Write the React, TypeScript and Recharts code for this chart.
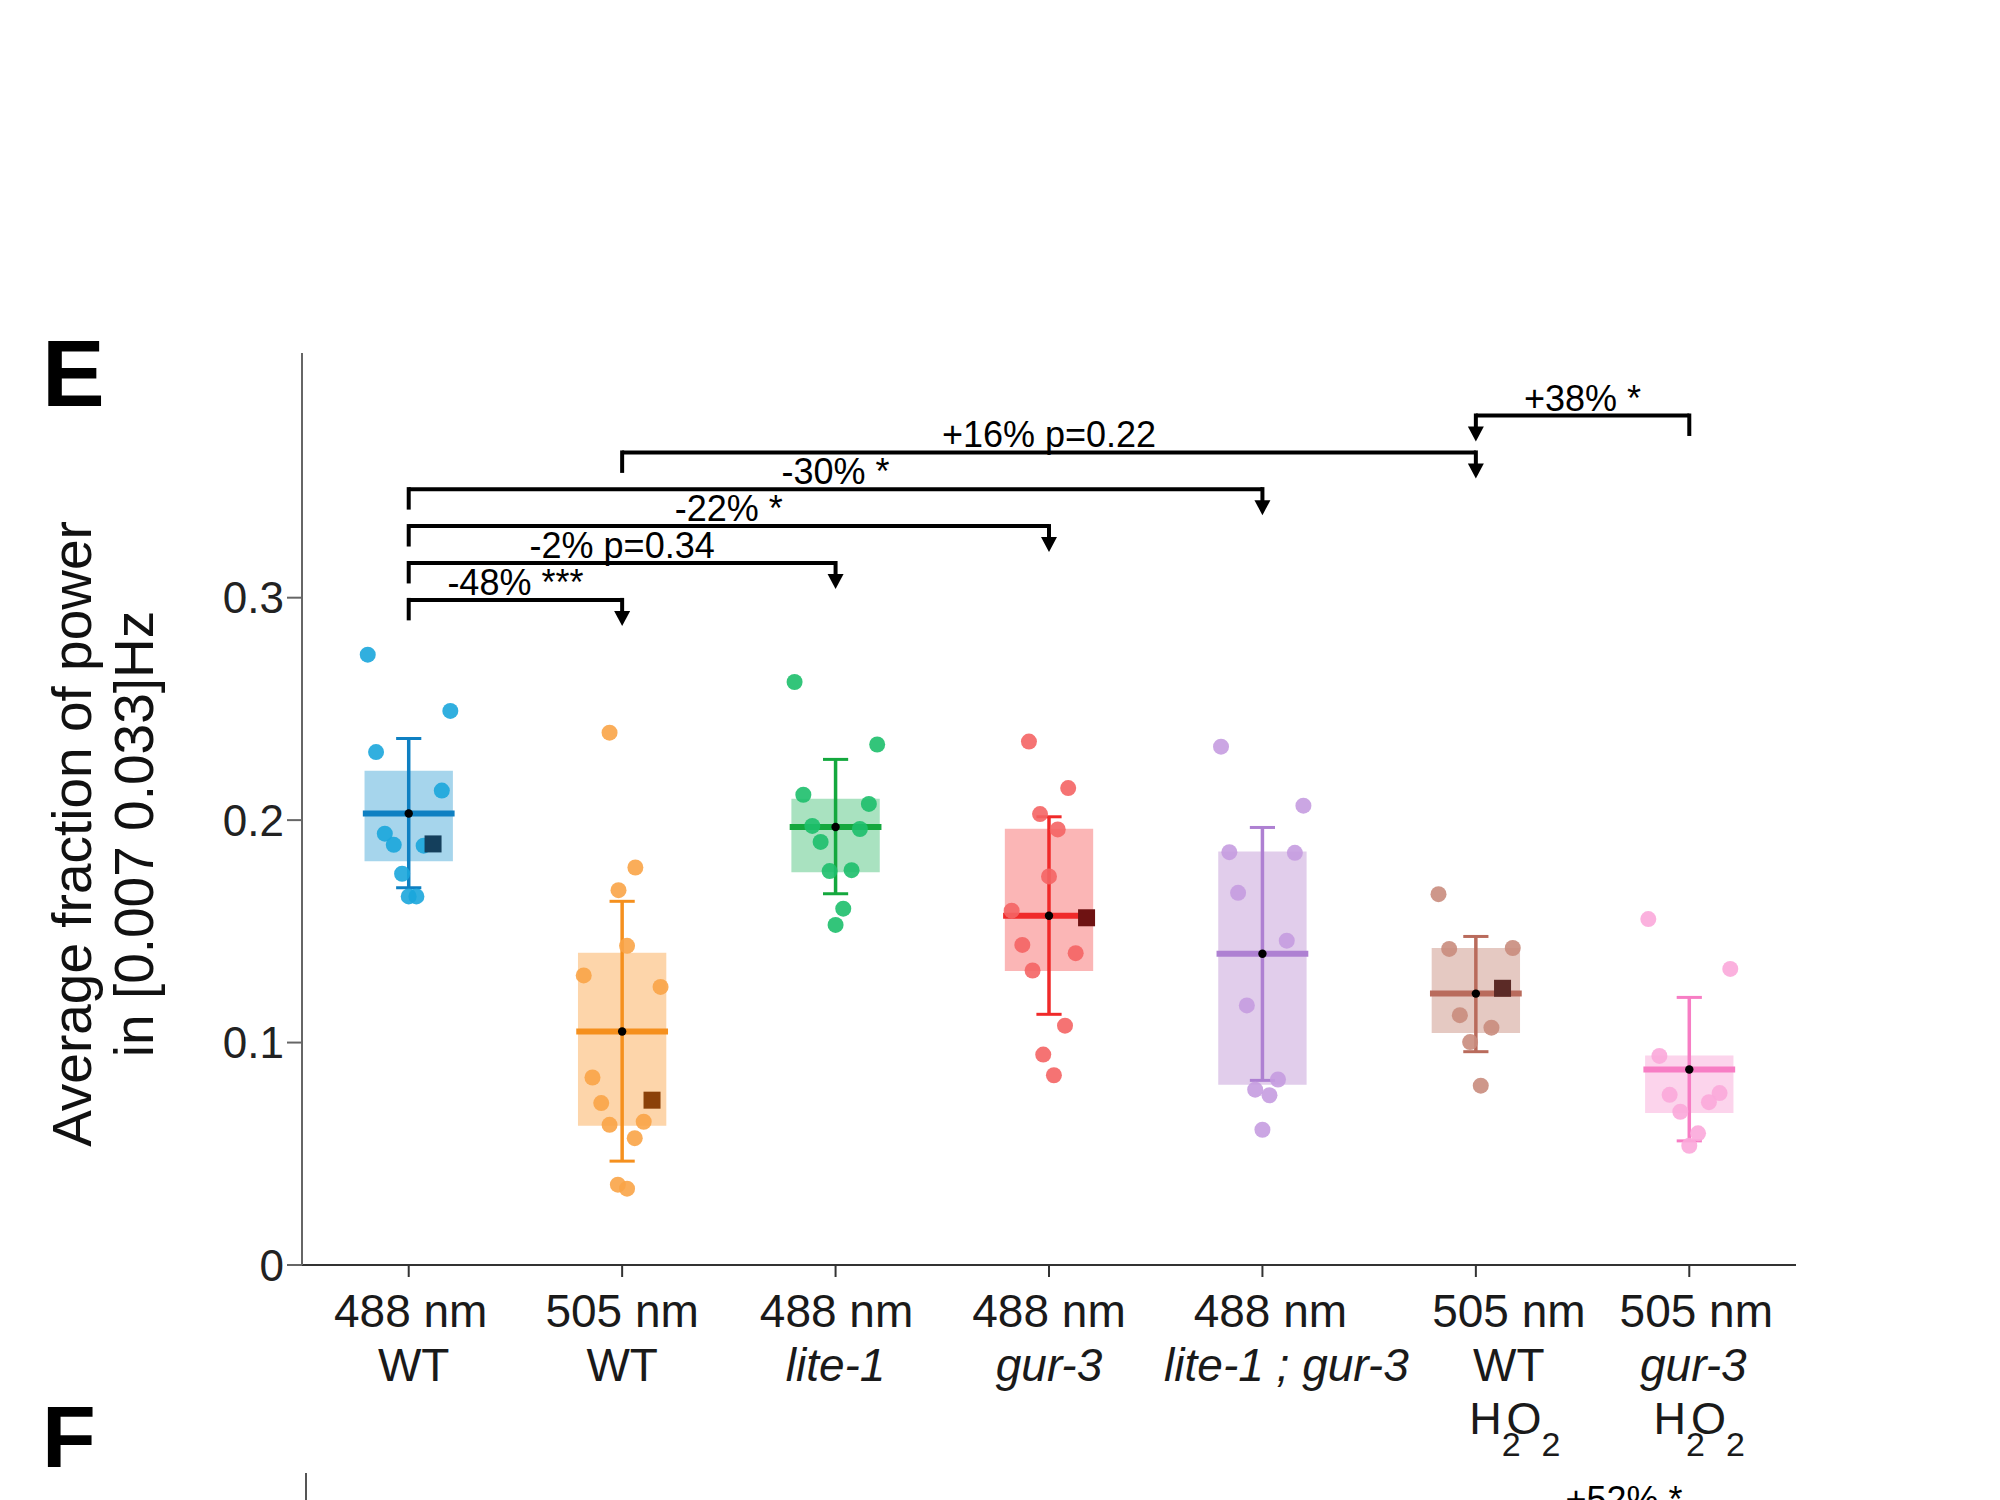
import React from 'react';
import { ScatterChart, Scatter, XAxis, YAxis, ReferenceArea, ReferenceLine, ReferenceDot } from 'recharts';

// category labels
const catWave = ['488 nm', '505 nm', '488 nm', '488 nm', '488 nm', '505 nm', '505 nm'];
const catStrain = ['WT', 'WT', 'lite-1', 'gur-3', 'lite-1 ; gur-3', 'WT', 'gur-3'];
const catItalic = [false, false, true, true, true, false, true];
const catH2O2 = [false, false, false, false, false, true, true];

// summary stats per group
const boxLow = [0.1815, 0.0626, 0.1766, 0.1322, 0.081, 0.1043, 0.0683];
const boxHigh = [0.2222, 0.1404, 0.2096, 0.1961, 0.1859, 0.1425, 0.0942];
const means = [0.203, 0.105, 0.1969, 0.157, 0.1399, 0.122, 0.0879];
const errLow = [0.1696, 0.0467, 0.1669, 0.1127, 0.083, 0.0959, 0.0558];
const errHigh = [0.2367, 0.1635, 0.2273, 0.2015, 0.1967, 0.1477, 0.1203];

// individual animals (value + horizontal jitter within the category)
const wt488Y = [0.2744, 0.2491, 0.2306, 0.2133, 0.1939, 0.1889, 0.1885, 0.1759, 0.1657, 0.1657];
const wt488Jit = [-0.192, 0.195, -0.153, 0.155, -0.112, -0.07, 0.07, -0.031, 0.0, 0.036];
const wt505Y = [0.2393, 0.1787, 0.1685, 0.1435, 0.1302, 0.125, 0.0843, 0.0728, 0.063, 0.0644, 0.057, 0.0361, 0.0343];
const wt505Jit = [-0.059, 0.062, -0.017, 0.023, -0.18, 0.18, -0.139, -0.098, -0.059, 0.101, 0.059, -0.02, 0.023];
const lite1Y = [0.2621, 0.234, 0.2114, 0.2073, 0.1974, 0.196, 0.1902, 0.1771, 0.1775, 0.1602, 0.1529];
const lite1Jit = [-0.192, 0.195, -0.151, 0.156, -0.109, 0.114, -0.07, -0.028, 0.075, 0.036, 0.0];
const gur3Y = [0.2353, 0.2144, 0.2027, 0.1958, 0.1747, 0.1593, 0.1439, 0.1402, 0.1324, 0.1076, 0.0946, 0.0853];
const gur3Jit = [-0.094, 0.09, -0.042, 0.041, 0.0, -0.175, -0.125, 0.125, -0.077, 0.075, -0.027, 0.023];
const liteGurY = [0.233, 0.2065, 0.1856, 0.1853, 0.1673, 0.1458, 0.1167, 0.0834, 0.0788, 0.0763, 0.0608];
const liteGurJit = [-0.194, 0.192, -0.155, 0.152, -0.114, 0.114, -0.073, 0.073, -0.034, 0.033, 0.0];
const wtH2O2Y = [0.1667, 0.1421, 0.1425, 0.1123, 0.1067, 0.1002, 0.0806];
const wtH2O2Jit = [-0.175, -0.125, 0.173, -0.075, 0.073, -0.027, 0.023];
const gurH2O2Y = [0.1555, 0.1331, 0.094, 0.0765, 0.0773, 0.0732, 0.0689, 0.0592, 0.0536];
const gurH2O2Jit = [-0.192, 0.192, -0.14, -0.092, 0.142, 0.092, -0.042, 0.041, 0.0];

// dark squares (reference animal)
const squareY = [0.1893, 0.0741, null, 0.1561, null, 0.1244, null];
const squareJit = [0.114, 0.14, 0, 0.176, 0, 0.125, 0];

// comparisons
const compFrom = [1, 1, 1, 1, 2, 6];
const compTo = [2, 3, 4, 5, 6, 7];
const compArrow = [2, 3, 4, 5, 6, 6];
const compLevel = [0.299, 0.3156, 0.3322, 0.3488, 0.3653, 0.3819];
const compText = ['-48% ***', '-2% p=0.34', '-22% *', '-30% *', '+16% p=0.22', '+38% *'];

const yTicks = [0, 0.1, 0.2, 0.3];

// styles
const dotColors = ['#1ba6dc', '#f9a447', '#1dbf6b', '#f46464', '#c59ce0', '#c98c7d', '#fba8da'];
const boxColors = ['#a6d5ec', '#fdd5aa', '#a9e2c0', '#fbb6b6', '#e1cdeb', '#e5c9c2', '#fcd4ec'];
const lineColors = ['#0f80c2', '#f5901e', '#14a83e', '#f02a2a', '#ae80d2', '#b96b5c', '#f77dc4'];
const squareColors = ['#143f5c', '#8b4109', '#000', '#6e1212', '#000', '#5b2a26', '#000'];
const waveShift = [2, 0, 1, 0, 8, 33, 7];
const strainShift = [5, 0, 0, 0, 24, 33, 4];

const groupY = [wt488Y, wt505Y, lite1Y, gur3Y, liteGurY, wtH2O2Y, gurH2O2Y];
const groupJit = [wt488Jit, wt505Jit, lite1Jit, gur3Jit, liteGurJit, wtH2O2Jit, gurH2O2Jit];

const BOX_HALF = 0.207;
const MEAN_HALF = 0.215;
const CAP_HALF = 0.059;
const LEG = 0.0092;
const TIP = 0.0117;

const FONT = '"Liberation Sans", Arial, Helvetica, sans-serif';

function CategoryTick(props: any) {
  const { x, y, payload } = props;
  const i = Math.round(payload.value) - 1;
  if (i < 0 || i > 6) return null;
  return (
    <g fill="#1a1a1a" fontFamily={FONT}>
      <text x={x + waveShift[i]} y={y + 48} textAnchor="middle" fontSize={46}>{catWave[i]}</text>
      <text x={x + strainShift[i]} y={y + 102} textAnchor="middle" fontSize={46} fontStyle={catItalic[i] ? 'italic' : 'normal'}>
        {catStrain[i]}
      </text>
      {catH2O2[i] && (
        <text x={x + strainShift[i] + 6} y={y + 155} textAnchor="middle" fontSize={45}>
          H<tspan dy={22} fontSize={34}>2</tspan>
          <tspan dy={-22} dx={-14}>O</tspan>
          <tspan dy={22} fontSize={34}>2</tspan>
        </text>
      )}
    </g>
  );
}

function renderYLabel(props: any) {
  const vb = props.viewBox || {};
  const cy = vb.y + vb.height / 2 + 25;
  const x1 = vb.x - 61;
  const x2 = vb.x + 1;
  return (
    <g fill="#111" fontFamily={FONT} fontSize={55}>
      <text transform={`translate(${x1},${cy}) rotate(-90)`} textAnchor="middle">Average fraction of power</text>
      <text transform={`translate(${x2},${cy}) rotate(-90)`} textAnchor="middle">in [0.007 0.033]Hz</text>
    </g>
  );
}

const Arrowhead = (p: any) => (
  <polygon points={`${p.cx - 8},${p.cy - 15} ${p.cx + 8},${p.cy - 15} ${p.cx},${p.cy}`} fill="#000" />
);

export default function App() {
  const meanData = means.map((m, i) => ({ x: i + 1, y: m }));
  const squareData = squareY
    .map((v, i) => (v == null ? null : { x: i + 1 + squareJit[i], y: v, g: i }))
    .filter(Boolean) as { x: number; y: number; g: number }[];

  return (
    <div style={{ position: 'absolute', left: 0, top: 0, width: 2000, height: 1500, overflow: 'hidden', background: '#fff', fontFamily: FONT }}>
      <ScatterChart width={2000} height={1500} margin={{ top: 353, right: 204, bottom: 35, left: 152 }}>
        <XAxis
          type="number"
          dataKey="x"
          domain={[0.5, 7.5]}
          ticks={[1, 2, 3, 4, 5, 6, 7]}
          interval={0}
          height={200}
          tick={<CategoryTick />}
          tickSize={12}
          axisLine={{ stroke: '#333', strokeWidth: 2 }}
          tickLine={{ stroke: '#333', strokeWidth: 2 }}
          allowDataOverflow
        />
        <YAxis
          type="number"
          dataKey="y"
          domain={[0, 0.41]}
          ticks={yTicks}
          tickFormatter={(v: number) => (v === 0 ? '0' : String(v))}
          width={150}
          tickSize={15}
          tickMargin={3}
          tick={{ fontSize: 44, fill: '#222', fontFamily: FONT }}
          axisLine={{ stroke: '#666', strokeWidth: 2 }}
          tickLine={{ stroke: '#666', strokeWidth: 2 }}
          label={renderYLabel}
          allowDataOverflow
        />

        {boxLow.map((lo, i) => (
          <ReferenceArea
            key={`box${i}`}
            x1={i + 1 - BOX_HALF}
            x2={i + 1 + BOX_HALF}
            y1={lo}
            y2={boxHigh[i]}
            fill={boxColors[i]}
            fillOpacity={1}
            stroke="none"
            ifOverflow="visible"
          />
        ))}

        {groupY.map((ys, g) => (
          <Scatter
            key={`pts${g}`}
            data={ys.map((y, k) => ({ x: g + 1 + groupJit[g][k], y }))}
            isAnimationActive={false}
            shape={(p: any) => <circle cx={p.cx} cy={p.cy} r={8} fill={dotColors[g]} fillOpacity={0.9} />}
          />
        ))}

        {means.map((m, i) => (
          <ReferenceLine key={`eb${i}`} segment={[{ x: i + 1, y: errLow[i] }, { x: i + 1, y: errHigh[i] }]} stroke={lineColors[i]} strokeWidth={3.5} ifOverflow="visible" />
        ))}
        {means.map((m, i) => (
          <ReferenceLine key={`capH${i}`} segment={[{ x: i + 1 - CAP_HALF, y: errHigh[i] }, { x: i + 1 + CAP_HALF, y: errHigh[i] }]} stroke={lineColors[i]} strokeWidth={3} ifOverflow="visible" />
        ))}
        {means.map((m, i) => (
          <ReferenceLine key={`capL${i}`} segment={[{ x: i + 1 - CAP_HALF, y: errLow[i] }, { x: i + 1 + CAP_HALF, y: errLow[i] }]} stroke={lineColors[i]} strokeWidth={3} ifOverflow="visible" />
        ))}
        {means.map((m, i) => (
          <ReferenceLine key={`mean${i}`} segment={[{ x: i + 1 - MEAN_HALF, y: m }, { x: i + 1 + MEAN_HALF, y: m }]} stroke={lineColors[i]} strokeWidth={6} ifOverflow="visible" />
        ))}

        <Scatter
          data={squareData}
          isAnimationActive={false}
          shape={(p: any) => <rect x={p.cx - 8.5} y={p.cy - 8.5} width={17} height={17} fill={squareColors[p.payload.g]} />}
        />
        <Scatter
          data={meanData}
          isAnimationActive={false}
          shape={(p: any) => <circle cx={p.cx} cy={p.cy} r={4.2} fill="#000" />}
        />

        {compText.map((t, k) => (
          <ReferenceLine
            key={`br${k}`}
            segment={[{ x: compFrom[k], y: compLevel[k] }, { x: compTo[k], y: compLevel[k] }]}
            stroke="#000"
            strokeWidth={4}
            ifOverflow="visible"
            label={{ value: t, position: 'top', offset: 5, fontSize: 36, fill: '#000', fontFamily: FONT }}
          />
        ))}
        {compText.map((t, k) => {
          const other = compArrow[k] === compTo[k] ? compFrom[k] : compTo[k];
          return (
            <ReferenceLine
              key={`leg${k}`}
              segment={[{ x: other, y: compLevel[k] + 0.0009 }, { x: other, y: compLevel[k] - LEG }]}
              stroke="#000"
              strokeWidth={4}
              ifOverflow="visible"
            />
          );
        })}
        {compText.map((t, k) => (
          <ReferenceLine
            key={`stem${k}`}
            segment={[{ x: compArrow[k], y: compLevel[k] + 0.0009 }, { x: compArrow[k], y: compLevel[k] - TIP + 0.004 }]}
            stroke="#000"
            strokeWidth={4}
            ifOverflow="visible"
          />
        ))}
        {compText.map((t, k) => (
          <ReferenceDot key={`arr${k}`} x={compArrow[k]} y={compLevel[k] - TIP} r={1} shape={Arrowhead} ifOverflow="visible" />
        ))}
      </ScatterChart>

      <svg width={2000} height={1500} style={{ position: 'absolute', left: 0, top: 0, pointerEvents: 'none' }}>
        <text x={42} y={406} fontSize={94} fontWeight={900} fill="#000" fontFamily={FONT}>E</text>
        <text x={42} y={1467} fontSize={88} fontWeight={900} fill="#000" fontFamily={FONT}>F</text>
        <line x1={306} y1={1473} x2={306} y2={1500} stroke="#555" strokeWidth={2} />
        <text x={1624} y={1512} textAnchor="middle" fontSize={36} fill="#000" fontFamily={FONT}>+52% *</text>
      </svg>
    </div>
  );
}
